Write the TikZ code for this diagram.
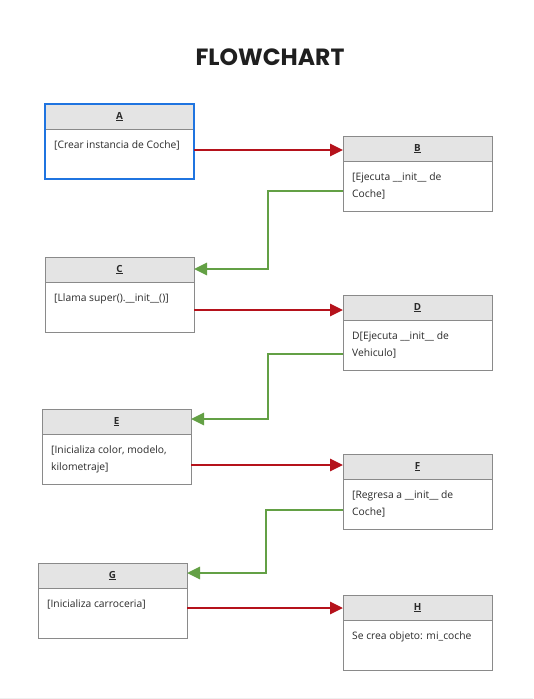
\documentclass[tikz,border=0pt]{standalone}
\usepackage{fontspec}
\setmainfont{Open Sans}
\newfontfamily\titlefont{Poppins}
\usetikzlibrary{arrows.meta}
\definecolor{headfill}{HTML}{E4E4E4}
\definecolor{boxgray}{HTML}{8A8A8A}
\definecolor{selblue}{HTML}{1F74E0}
\definecolor{flowred}{HTML}{B5121B}
\definecolor{flowgreen}{HTML}{63A045}
\definecolor{txt}{HTML}{2A2A2A}
\tikzset{
  boxbody/.style={minimum width=149pt,minimum height=75pt,inner sep=0pt,outer sep=0pt},
  plainborder/.style={draw=boxgray,line width=0.8pt},
  selborder/.style={draw=selblue,line width=2pt},
  hlabel/.style={font=\fontsize{9.8}{11}\selectfont\bfseries,text=txt,inner sep=0pt},
  btext/.style={font=\fontsize{10.3}{17}\selectfont,text=txt,inner sep=0pt,align=left,anchor=north west},
  redarrow/.style={draw=flowred,line width=2.9pt,-{Triangle[length=13pt,width=12pt]}},
  greenarrow/.style={draw=flowgreen,line width=2.9pt,-{Triangle[length=13pt,width=12pt]}},
}
\newcommand\flowbox[6]{%
  \path node[boxbody] (#1) at ({#2+74.5},{#3+37.5}) {};
  \fill[headfill] (#1.north west) rectangle ([yshift=-25pt]#1.north east);
  \draw[boxgray,line width=0.8pt] ([yshift=-25pt]#1.north west) -- ([yshift=-25pt]#1.north east);
  \draw[#6] (#1.north west) rectangle (#1.south east);
  \node[hlabel] (#1-h) at ([yshift=-12.5pt]#1.north) {\underline{#4}};
  \node[btext] (#1-t) at ([xshift=9pt,yshift=-32pt]#1.north west) {\strut #5};
}
\begin{document}
\begin{tikzpicture}[x=1pt,y=-1pt]
\useasboundingbox (0,0) rectangle (533,699);
\fill[white] (0,0) rectangle (533,699);
\draw[black!6,line width=1pt] (0,698) -- (533,698);
\node[font=\titlefont\fontsize{23.5}{26}\selectfont\bfseries,text=black!88] (title) at (270,57) {FLOWCHART};

\flowbox{A}{45}{104}{A}{[Crear instancia de Coche]}{selborder}
\flowbox{B}{343}{136}{B}{[Ejecuta \_\_init\_\_ de\\Coche]}{plainborder}
\flowbox{C}{45}{257}{C}{[Llama super().\_\_init\_\_()]}{plainborder}
\flowbox{D}{343}{295}{D}{D[Ejecuta \_\_init\_\_ de\\Vehiculo]}{plainborder}
\flowbox{E}{42}{409}{E}{[Inicializa color, modelo,\\kilometraje]}{plainborder}
\flowbox{F}{343}{454}{F}{[Regresa a \_\_init\_\_ de\\Coche]}{plainborder}
\flowbox{G}{38}{563}{G}{[Inicializa carroceria]}{plainborder}
\flowbox{H}{343}{595}{H}{Se crea objeto: mi\_coche}{plainborder}

\coordinate (bc) at (268,0);
\coordinate (de) at (268,0);
\coordinate (fg) at (266,0);

\draw[redarrow] ([yshift=-46pt]A.north east) -- ([yshift=-46pt]A.north east -| B.west);
\draw[redarrow] ([yshift=-53pt]C.north east) -- ([yshift=-53pt]C.north east -| D.west);
\draw[redarrow] ([yshift=-56pt]E.north east) -- ([yshift=-56pt]E.north east -| F.west);
\draw[redarrow] ([yshift=-45pt]G.north east) -- ([yshift=-45pt]G.north east -| H.west);

\draw[greenarrow] ([yshift=-55pt]B.north west) -| ([yshift=-12pt]C.north east -| bc) -- ([yshift=-12pt]C.north east);
\draw[greenarrow] ([yshift=-59pt]D.north west) -| ([yshift=-10pt]E.north east -| de) -- ([yshift=-10pt]E.north east);
\draw[greenarrow] ([yshift=-56pt]F.north west) -| ([yshift=-10pt]G.north east -| fg) -- ([yshift=-10pt]G.north east);
\end{tikzpicture}
\end{document}
